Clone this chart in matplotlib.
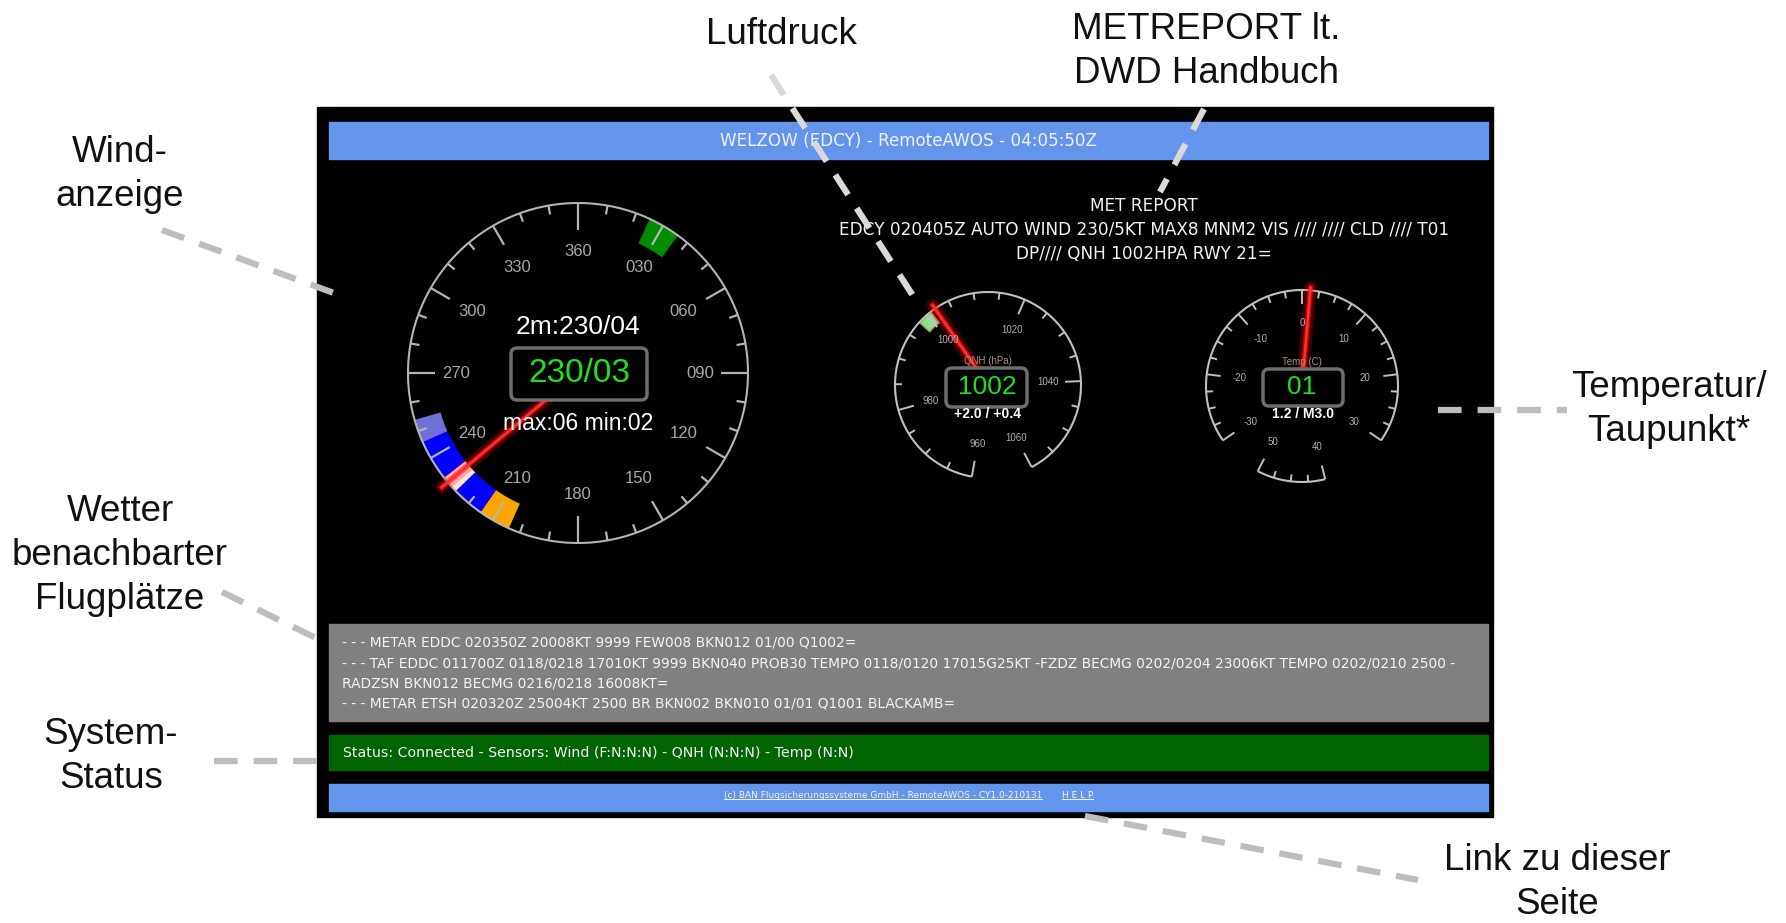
import numpy as np
import matplotlib
matplotlib.use('Agg')
import matplotlib.pyplot as plt
from matplotlib.patches import Rectangle, FancyBboxPatch

plt.rcParams['lines.scale_dashes'] = False

# Bildschirm-Inhalte
titel = 'WELZOW (EDCY) - RemoteAWOS - 04:05:50Z'
met_report = ['MET REPORT',
              'EDCY 020405Z AUTO WIND 230/5KT MAX8 MNM2 VIS //// //// CLD //// T01',
              'DP//// QNH 1002HPA RWY 21=']
nachbar = ['- - - METAR EDDC 020350Z 20008KT 9999 FEW008 BKN012 01/00 Q1002=',
           '- - - TAF EDDC 011700Z 0118/0218 17010KT 9999 BKN040 PROB30 TEMPO 0118/0120 17015G25KT -FZDZ BECMG 0202/0204 23006KT TEMPO 0202/0210 2500 -',
           'RADZSN BKN012 BECMG 0216/0218 16008KT=',
           '- - - METAR ETSH 020320Z 25004KT 2500 BR BKN002 BKN010 01/01 Q1001 BLACKAMB=']
status = 'Status: Connected - Sensors: Wind (F:N:N:N) - QNH (N:N:N) - Temp (N:N)'
fusszeile = '(c) BAN Flugsicherungssysteme GmbH - RemoteAWOS - CY1.0-210131'
hilfe = 'H E L P'

# Windanzeige
wind_richtung = 230
wind_texte = ['2m:230/04', '230/03', 'max:06 min:02']
wind_skala = [0, 30, 60, 90, 120, 150, 180, 210, 240, 270, 300, 330]
wind_skala_text = ['360', '030', '060', '090', '120', '150', '180', '210', '240', '270', '300', '330']
wind_band_von = [25, 204, 215, 226, 232, 246]
wind_band_bis = [36, 215, 226, 232, 246, 254]
wind_band_farben = ['#008c00', '#ffa500', '#0000ff', '#ffe2e2', '#0000ff', '#7070d8']

# Luftdruck
qnh_wert = 1002
qnh_texte = ['QNH (hPa)', '1002', '+2.0 / +0.4']
qnh_skala = [960, 980, 1000, 1020, 1040, 1060]
qnh_band = [998, 1001]

# Temperatur
temp_wert = 1.2
temp_texte = ['Temp (C)', '01', '1.2 / M3.0']
temp_skala = [-30, -20, -10, 0, 10, 20, 30, 40, 50]
temp_boegen = [(-30, 30), (40, 50)]

# Beschriftungen aussen
labels = ['Wind-\nanzeige', 'Luftdruck', 'METREPORT lt.\nDWD Handbuch', 'Temperatur/\nTaupunkt*',
          'Wetter\nbenachbarter\nFlugplätze', 'System-\nStatus', 'Link zu dieser\nSeite']
label_pos = [(120, 162), (781, 44), (1206, 39), (1669, 397), (120, 521), (111, 744), (1557, 870)]
linien = [((162, 230), (342, 296)), ((771, 75), (917, 302)), ((1204, 109), (1160, 192)),
          ((1438, 410), (1567, 410)), ((222, 592), (322, 641)), ((214, 761), (321, 761)),
          ((1085, 816), (1418, 880))]
linien_farbe = ['#bdbdbd', '#d9d9d9', '#d9d9d9', '#bdbdbd', '#bdbdbd', '#bdbdbd', '#bdbdbd']

W, H = 1786, 923
fig = plt.figure(figsize=(W / 100, H / 100), dpi=100, facecolor='white')

ax = fig.add_axes([0, 0, 1, 1])
ax.set_xlim(0, W)
ax.set_ylim(H, 0)
ax.axis('off')

SCHRIFT = dict(family='DejaVu Sans')
ARIAL = 'Liberation Sans'

# Bildschirm
ax.add_patch(Rectangle((317, 107), 1176, 710, color='black'))
ax.add_patch(Rectangle((329, 122), 1159, 37, color='#6495ed'))
ax.add_patch(Rectangle((329, 624), 1159, 97, color='#808080'))
ax.add_patch(Rectangle((329, 735), 1159, 35, color='#006400'))
ax.add_patch(Rectangle((329, 784), 1159, 27, color='#6495ed'))

ax.text(908, 141, titel, ha='center', va='center', color='#eef2fb', fontsize=12.1, **SCHRIFT)
for i, zeile in enumerate(met_report):
    ax.text(1144, 206 + i * 24, zeile, ha='center', va='center', color='#f2f2f2', fontsize=12.2, **SCHRIFT)
for i, zeile in enumerate(nachbar):
    ax.text(342, 643 + i * 20.3, zeile, ha='left', va='center', color='#f4f4f4', fontsize=9.9, **SCHRIFT)
ax.text(343, 753, status, ha='left', va='center', color='#f4f4f4', fontsize=10.2, **SCHRIFT)
t_fuss = ax.text(724, 796, fusszeile, ha='left', va='center', color='#f4f4f4', fontsize=6.5, **SCHRIFT)
t_hilfe = ax.text(1062, 796, hilfe, ha='left', va='center', color='#f4f4f4', fontsize=6.5, **SCHRIFT)


def gauge(cx, cy, rmax):
    g = fig.add_axes([(cx - rmax) / W, 1 - (cy + rmax) / H, 2 * rmax / W, 2 * rmax / H], projection='polar')
    g.set_theta_zero_location('N')
    g.set_theta_direction(-1)
    g.axis('off')
    return g


def ring(g, r, von, bis, farbe, lw):
    t = np.deg2rad(np.linspace(von, bis, 400))
    g.plot(t, np.full(t.size, r), color=farbe, lw=lw, solid_capstyle='butt')


def strich(g, grad, r1, r2, farbe, lw):
    g.plot([np.deg2rad(grad)] * 2, [r1, r2], color=farbe, lw=lw, solid_capstyle='butt')


def nadel(g, grad, r):
    t = np.deg2rad(grad)
    g.plot([t, t], [0, r], color='#ff0000', lw=9, alpha=0.25, solid_capstyle='round')
    g.plot([t, t], [0, r], color='#ff1010', lw=4, alpha=0.6)
    g.plot([t, t], [0, r], color='#ff3030', lw=1.8)


# Windanzeige
gw = gauge(578, 373, 190)
for von, bis, farbe in zip(wind_band_von, wind_band_bis, wind_band_farben):
    gw.bar(np.deg2rad((von + bis) / 2), 27, width=np.deg2rad(bis - von), bottom=143, color=farbe, lw=0)
ring(gw, 170, 0, 360, '#b4b4b4', 1.5)
for d in range(0, 360, 10):
    laenge = 27 if d % 90 == 0 else (22 if d % 30 == 0 else 9)
    strich(gw, d, 170 - laenge, 170, '#b4b4b4', 1.6)
for d, s in zip(wind_skala, wind_skala_text):
    gw.text(np.deg2rad(d), 122, s, ha='center', va='center', color='#a8a8a8', fontsize=12, family=ARIAL)
nadel(gw, wind_richtung, 178)
gw.set_ylim(0, 190)


# Luftdruck
def qnh_grad(v):
    return 190 + (v - 960) * 3.22


gq = gauge(988, 385, 110)
gq.bar(np.deg2rad((qnh_grad(qnh_band[0]) + qnh_grad(qnh_band[1])) / 2), 13,
       width=np.deg2rad(qnh_grad(qnh_band[1]) - qnh_grad(qnh_band[0])), bottom=79,
       color='#8fe08f', edgecolor='#b09060', lw=1)
ring(gq, 93, qnh_grad(960), qnh_grad(1060), '#c0c0c0', 1.5)
for v in range(960, 1061, 5):
    laenge = 16 if v % 20 == 0 else 7
    strich(gq, qnh_grad(v), 93 - laenge, 93, '#c0c0c0', 1.4)
for v in qnh_skala:
    gq.text(np.deg2rad(qnh_grad(v)), 60, str(v), ha='center', va='center', color='#b0b0b0', fontsize=7, family=ARIAL)
nadel(gq, qnh_grad(qnh_wert), 97)
gq.set_ylim(0, 110)


# Temperatur
def temp_grad(v):
    return v * 4.15


gt = gauge(1302, 386, 110)
for von, bis in temp_boegen:
    ring(gt, 96, temp_grad(von), temp_grad(bis), '#c0c0c0', 1.5)
    for v in np.arange(von, bis + 0.1, 2.5):
        laenge = 14 if v % 10 == 0 else 7
        strich(gt, temp_grad(v), 96 - laenge, 96, '#c0c0c0', 1.4)
for v in temp_skala:
    gt.text(np.deg2rad(temp_grad(v)), 63, str(v), ha='center', va='center', color='#b0b0b0', fontsize=7, family=ARIAL)
nadel(gt, temp_grad(temp_wert), 99)
gt.set_ylim(0, 110)

# obere Ebene
top = fig.add_axes([0, 0, 1, 1], facecolor='none')
top.set_xlim(0, W)
top.set_ylim(H, 0)
top.axis('off')


def anzeige_box(x0, y0, w, h):
    top.add_patch(FancyBboxPatch((x0, y0), w, h, boxstyle='round,pad=0,rounding_size=6',
                                 fc='black', ec='#6e6e6e', lw=2.5))


# Wind Mitte
top.text(578, 327, wind_texte[0], ha='center', va='center', color='white', fontsize=19, family=ARIAL)
anzeige_box(511, 348, 136, 52)
top.text(579, 374, wind_texte[1], ha='center', va='center', color='#1ee01e', fontsize=24, family=ARIAL)
top.text(578, 423, wind_texte[2], ha='center', va='center', color='white', fontsize=16.5, family=ARIAL)

# QNH Mitte
top.text(988, 361, qnh_texte[0], ha='center', va='center', color='#a89080', fontsize=7, family=ARIAL)
anzeige_box(946, 368, 81, 39)
top.text(987, 387, qnh_texte[1], ha='center', va='center', color='#1ee01e', fontsize=19, family=ARIAL)
top.text(987, 414, qnh_texte[2], ha='center', va='center', color='white', fontsize=10, fontweight='bold', family=ARIAL)

# Temp Mitte
top.text(1302, 362, temp_texte[0], ha='center', va='center', color='#a89080', fontsize=7, family=ARIAL)
anzeige_box(1263, 369, 80, 37)
top.text(1302, 387, temp_texte[1], ha='center', va='center', color='#1ee01e', fontsize=19, family=ARIAL)
top.text(1303, 414, temp_texte[2], ha='center', va='center', color='white', fontsize=10, fontweight='bold', family=ARIAL)

# Beschriftungen und Hinweislinien
for text, (x, y) in zip(labels, label_pos):
    for i, zeile in enumerate(text.split('\n')):
        top.text(x, y + i * 44, zeile, ha='center', va='baseline', color='#111111', fontsize=26.5, family=ARIAL)
for ((x1, y1), (x2, y2)), farbe in zip(linien, linien_farbe):
    top.plot([x1, x2], [y1, y2], color=farbe, lw=4.5, dashes=(17, 11.5), solid_capstyle='butt',
             dash_capstyle='butt')

# Unterstreichung der Links
fig.canvas.draw()
for t in [t_fuss, t_hilfe]:
    bb = t.get_window_extent().transformed(ax.transData.inverted())
    yb = max(bb.y0, bb.y1) - 1.5
    ax.plot([bb.x0, bb.x1], [yb, yb], color='#f4f4f4', lw=0.7)

fig.savefig('out.png', dpi=100, facecolor='white')
